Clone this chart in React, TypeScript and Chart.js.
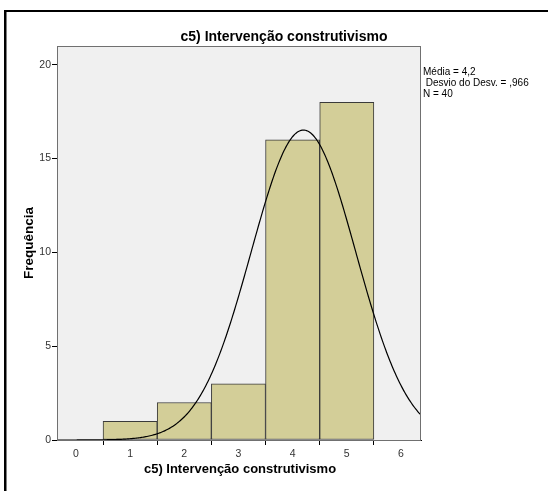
import { useEffect, useRef } from "react";
import { Chart, registerables } from "chart.js";

Chart.register(...registerables);

// Histogram data: bin centres (width 1) and frequencies
const binCenters = [1, 2, 3, 4, 5];
const frequencies = [1, 2, 3, 16, 18];
const binWidth = 1;

// Axis ticks and ranges
const xTicks = [0, 1, 2, 3, 4, 5, 6];
const yTicks = [0, 5, 10, 15, 20];
const xRange = [-0.35, 6.37];
const yRange = [0, 21];

// Summary statistics shown beside the plot
const mean = 4.2;
const sd = 0.966;
const n = 40;
const statLines = ["Média = 4,2", " Desvio do Desv. = ,966", "N = 40"];

const titleText = "c5) Intervenção construtivismo";
const xTitle = "c5) Intervenção construtivismo";
const yTitle = "Frequência";

const FONT = "'Liberation Sans', Arial, Helvetica, sans-serif";

// Normal curve scaled to the histogram counts (N * bin width * density)
function normalCurve() {
  const pts: { x: number; y: number }[] = [];
  const steps = 340;
  for (let i = 0; i <= steps; i++) {
    const x = xRange[0] + ((xRange[1] - xRange[0]) * i) / steps;
    const z = (x - mean) / sd;
    const y = (n * binWidth * Math.exp(-0.5 * z * z)) / (sd * Math.sqrt(2 * Math.PI));
    pts.push({ x, y });
  }
  return pts;
}

const decorPlugin = {
  id: "decor",
  beforeDraw(chart: any) {
    const { ctx, chartArea: a } = chart;
    ctx.save();
    ctx.fillStyle = "#ffffff";
    ctx.fillRect(0, 0, chart.width, chart.height);
    ctx.fillStyle = "#f0f0f0";
    ctx.fillRect(a.left, a.top, a.right - a.left, a.bottom - a.top);
    ctx.restore();
  },
  afterDraw(chart: any) {
    const { ctx, chartArea: a } = chart;
    ctx.save();
    // plot frame
    ctx.strokeStyle = "#707070";
    ctx.lineWidth = 1;
    ctx.strokeRect(a.left + 0.5, a.top + 0.5, a.right - a.left - 1, a.bottom - a.top);

    // outer frame (left and top edges)
    ctx.fillStyle = "#000000";
    ctx.fillRect(4, 10, 2.5, chart.height - 10);
    ctx.fillRect(4, 10, chart.width - 4, 2);

    // chart title
    ctx.fillStyle = "#000000";
    ctx.textAlign = "center";
    ctx.textBaseline = "middle";
    ctx.font = `bold 14px ${FONT}`;
    ctx.fillText(titleText, 284, 37);

    // x axis title
    ctx.font = `bold 13px ${FONT}`;
    ctx.fillText(xTitle, (a.left + a.right) / 2 + 1, 469);

    // y axis title
    ctx.save();
    ctx.translate(29, 243);
    ctx.rotate(-Math.PI / 2);
    ctx.font = `bold 13.5px ${FONT}`;
    ctx.fillText(yTitle, 0, 0);
    ctx.restore();

    // statistics
    ctx.textAlign = "left";
    ctx.textBaseline = "middle";
    ctx.font = `10px ${FONT}`;
    statLines.forEach((s, i) => ctx.fillText(s, 423, 72 + i * 11));
    ctx.restore();
  },
};

export default function App() {
  const ref = useRef<HTMLCanvasElement | null>(null);

  useEffect(() => {
    if (!ref.current) return;
    const chart = new Chart(ref.current, {
      type: "bar",
      data: {
        datasets: [
          {
            type: "line",
            data: normalCurve(),
            borderColor: "#000000",
            borderWidth: 1.2,
            pointRadius: 0,
            tension: 0,
            fill: false,
            order: 0,
          } as any,
          {
            type: "bar",
            data: binCenters.map((x, i) => ({ x, y: frequencies[i] })),
            backgroundColor: "#d3ce98",
            borderColor: "#3a3a3a",
            borderWidth: 1,
            borderSkipped: false,
            barPercentage: 1,
            categoryPercentage: 1,
            grouped: false,
            order: 1,
          } as any,
        ],
      },
      options: {
        responsive: false,
        animation: false,
        devicePixelRatio: 1,
        layout: { padding: { top: 46, right: 127, left: 0, bottom: 0 } },
        plugins: {
          legend: { display: false },
          tooltip: { enabled: false },
          title: { display: false },
        },
        scales: {
          x: {
            type: "linear",
            offset: false,
            min: xRange[0],
            max: xRange[1],
            afterBuildTicks: (s: any) => {
              s.ticks = xTicks.map((v) => ({ value: v }));
            },
            afterFit: (s: any) => {
              s.height = 51;
            },
            grid: {
              drawOnChartArea: false,
              drawTicks: true,
              tickLength: 5,
              color: "#000000",
            },
            border: { display: true, color: "#000000" },
            ticks: {
              color: "#333333",
              font: { family: FONT, size: 10.5 },
              padding: 3,
              maxRotation: 0,
              autoSkip: false,
            },
          },
          y: {
            type: "linear",
            min: yRange[0],
            max: yRange[1],
            afterBuildTicks: (s: any) => {
              s.ticks = yTicks.map((v) => ({ value: v }));
            },
            afterFit: (s: any) => {
              s.width = 57;
            },
            grid: {
              drawOnChartArea: false,
              drawTicks: true,
              tickLength: 5,
              color: "#000000",
            },
            border: { display: true, color: "#000000" },
            ticks: {
              color: "#333333",
              font: { family: FONT, size: 10.5 },
              padding: 1,
              autoSkip: false,
            },
          },
        },
      } as any,
      plugins: [decorPlugin],
    });
    return () => chart.destroy();
  }, []);

  return (
    <div style={{ position: "fixed", left: 0, top: 0, width: 548, height: 491 }}>
      <canvas ref={ref} width={548} height={491} style={{ display: "block" }} />
    </div>
  );
}
